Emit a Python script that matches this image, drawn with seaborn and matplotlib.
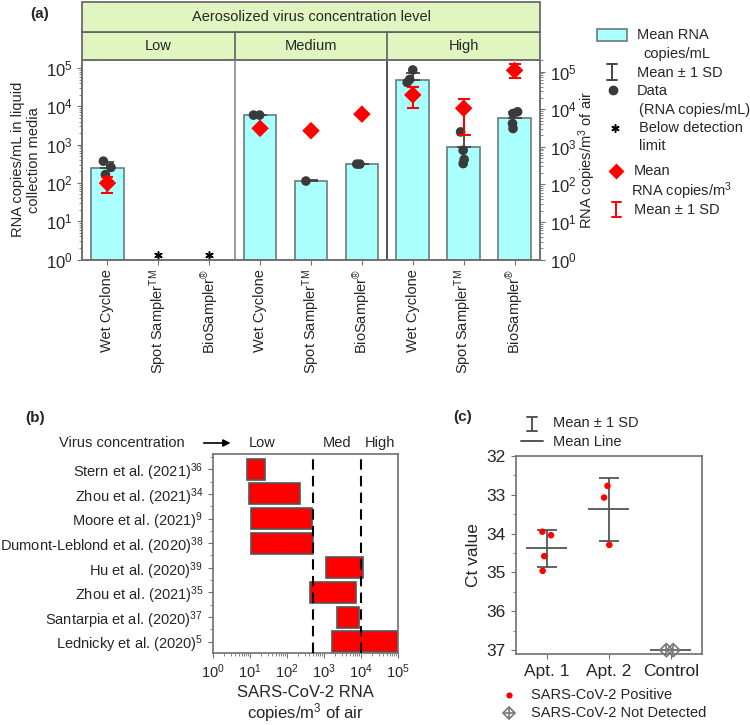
import numpy as np
import pandas as pd
import matplotlib
matplotlib.use('Agg')
import matplotlib.pyplot as plt
import seaborn as sns
from matplotlib.patches import Rectangle
from matplotlib.ticker import LogLocator, MultipleLocator, NullFormatter

# ---------------- data, panel (a) ----------------
levels = ['Low', 'Medium', 'High']
samplers = ['Wet Cyclone', 'Spot Sampler$^{\\mathrm{TM}}$', 'BioSampler$^{\\circledR}$']
# mean RNA copies/mL (bars), nan = below detection limit
bar_mean = [250, np.nan, np.nan, 5800, 115, 310, 48000, 870, 4900]
bar_sd_top = [355, np.nan, np.nan, 5900, 118, 320, 75000, 1770, 7000]
below_lod = [False, True, True, False, False, False, False, False, False]
# individual data points (RNA copies/mL)
liquid_pts = [[370, 255, 165], [], [], [5900, 5900], [112], [310, 310],
              [89000, 50500, 42000], [2150, 710, 410, 320], [7200, 6500, 3550, 2640]]
# mean RNA copies/m3 of air and its +-1 SD range
air_mean = [108, np.nan, np.nan, 3100, 2680, 7400, 24000, 10600, 108000]
air_lo = [60, np.nan, np.nan, 3100, 2680, 7400, 11000, 2050, 68000]
air_hi = [155, np.nan, np.nan, 3100, 2680, 7400, 39000, 19000, 155000]

# ---------------- data, panel (b) ----------------
studies = ['Stern et al. (2021)$^{36}$', 'Zhou et al. (2021)$^{34}$',
           'Moore et al. (2021)$^{9}$', 'Dumont-Leblond et al. (2020)$^{38}$',
           'Hu et al. (2020)$^{39}$', 'Zhou et al. (2021)$^{35}$',
           'Santarpia et al. (2020)$^{37}$', 'Lednicky et al. (2020)$^{5}$']
range_lo = [8.5, 9.4, 10.6, 10.6, 1130, 420, 2200, 1670]
range_hi = [25, 225, 465, 510, 11500, 7200, 8700, 98000]
conc_bounds = [500, 10000]

# ---------------- data, panel (c) ----------------
sites = ['Apt. 1', 'Apt. 2', 'Control']
ct_apt1 = [33.95, 34.04, 34.58, 34.96]
ct_apt2 = [32.77, 33.07, 34.29]
ct_ctrl = [37.0, 37.0]

# jitter offsets of points (style only)
jit_a = [[-0.08, 0.07, -0.04], [], [], [-0.13, -0.01], [-0.1], [-0.1, -0.04],
         [0.0, -0.06, -0.11], [-0.06, -0.01, 0.01, -0.01], [0.06, -0.03, -0.04, -0.03]]
jit_c = [[-0.07, 0.07, -0.04, -0.065], [-0.02, -0.075, 0.01], [-0.07, 0.04]]

sns.set_style('ticks')
plt.rcParams['font.family'] = ['Liberation Sans', 'DejaVu Sans']
plt.rcParams['mathtext.fontset'] = 'custom'
plt.rcParams['mathtext.rm'] = 'Liberation Sans'
plt.rcParams['mathtext.it'] = 'Liberation Sans:italic'
plt.rcParams['mathtext.bf'] = 'Liberation Sans:bold'
plt.rcParams['font.size'] = 10.5

CYAN = '#aaffff'
EDGE = '#6a7a7a'
STRIP_EDGE = '#606060'
GREEN = '#e0f5c0'
DOT = '#3a3a3a'
SPINE = '#707070'
GRAY = '#555555'

W, H = 750, 725
fig = plt.figure(figsize=(7.5, 7.25), dpi=100)


def rect(x0, y0, x1, y1):
    return [x0 / W, 1 - y1 / H, (x1 - x0) / W, (y1 - y0) / H]


def style_spines(ax):
    for s in ax.spines.values():
        s.set_color(SPINE)
        s.set_linewidth(1.2)
    ax.tick_params(which='both', color=SPINE, direction='out')


# ================= panel (a) =================
ax = fig.add_axes(rect(82, 60, 540, 259.5))
slots = [f'{lv}|{i}' for lv in levels for i in range(3)]
df_a = pd.DataFrame({'slot': slots, 'mean': bar_mean})
sns.barplot(data=df_a, x='slot', y='mean', order=slots, color=CYAN, saturation=1,
            width=0.64, edgecolor=EDGE, linewidth=1.2, errorbar=None, ax=ax)
ax.set_yscale('log')
ax.set_ylim(1, 10 ** 5.21)
ax.set_xlim(-0.5, 8.5)

xs = np.arange(9)
m = np.array(bar_mean)
ax.errorbar(xs, m, yerr=[np.zeros(9), np.array(bar_sd_top) - m], fmt='none',
            ecolor='#444444', elinewidth=1.3, capsize=5, capthick=1.3, zorder=4)
for i, vals in enumerate(liquid_pts):
    if vals:
        sns.scatterplot(x=[i + d for d in jit_a[i]], y=vals, color=DOT, s=48,
                        edgecolor='none', ax=ax, zorder=5, legend=False)
lod_x = [i for i, f in enumerate(below_lod) if f]
ax.scatter(lod_x, [1.3] * len(lod_x), marker=(6, 2, 0), color='black', s=28,
           linewidths=1.1, zorder=5, clip_on=False)

ax.axvline(2.5, color='#8a8a8a', lw=1.2)
ax.axvline(5.5, color='#333333', lw=1.2)

ax.set_xticks(xs)
ax.set_xticklabels(samplers * 3, rotation=90, fontsize=10.5)
ax.set_xlabel('')
ax.set_yticks([10 ** k for k in range(6)])
ax.yaxis.set_minor_locator(LogLocator(base=10, subs=np.arange(2, 10), numticks=20))
ax.yaxis.set_minor_formatter(NullFormatter())
ax.tick_params(axis='y', labelsize=12)
ax.set_ylabel('RNA copies/mL in liquid\ncollection media', fontsize=10.5, labelpad=3)
style_spines(ax)

ax2 = ax.twinx()
ax2.set_yscale('log')
ax2.set_ylim(1, 10 ** 5.31)
am = np.array(air_mean)
ax2.errorbar(xs, am, yerr=[am - np.array(air_lo), np.array(air_hi) - am], fmt='none',
             ecolor='red', elinewidth=1.5, capsize=4, capthick=1.5, zorder=4)
sns.scatterplot(x=xs, y=am, marker='D', color='red', s=80, edgecolor='none', ax=ax2,
                zorder=5, legend=False)
ax2.set_yticks([10 ** k for k in range(6)])
ax2.yaxis.set_minor_locator(LogLocator(base=10, subs=np.arange(2, 10), numticks=20))
ax2.yaxis.set_minor_formatter(NullFormatter())
ax2.tick_params(axis='y', labelsize=12)
ax2.set_ylabel('RNA copies/m$^3$ of air', fontsize=10.5, labelpad=0)
style_spines(ax2)

# header strips
h1 = 28 / 199.5
h2 = 30 / 199.5
ax.add_patch(Rectangle((0, 1), 1, h1, transform=ax.transAxes, facecolor=GREEN,
                       edgecolor=STRIP_EDGE, lw=1.2, clip_on=False))
ax.add_patch(Rectangle((0, 1 + h1), 1, h2, transform=ax.transAxes, facecolor=GREEN,
                       edgecolor=STRIP_EDGE, lw=1.2, clip_on=False))
for f in (1 / 3, 2 / 3):
    ax.plot([f, f], [1, 1 + h1], transform=ax.transAxes, color=STRIP_EDGE, lw=1.2,
            clip_on=False)
for i, lv in enumerate(levels):
    ax.text((i + 0.5) / 3, 1 + h1 / 2, lv, transform=ax.transAxes, ha='center',
            va='center', fontsize=10.5)
ax.text(0.5, 1 + h1 + h2 / 2, 'Aerosolized virus concentration level', transform=ax.transAxes,
        ha='center', va='center', fontsize=10.5)

# ================= panel (b) =================
axb = fig.add_axes(rect(213, 454, 398, 653))
ypos = np.arange(len(studies))
axb.barh(ypos, np.array(range_hi) - np.array(range_lo), left=range_lo, height=0.85,
         color='red', edgecolor=GRAY, linewidth=1.2, zorder=2)
for b in conc_bounds:
    axb.axvline(b, color='black', lw=1.5, ls=(0, (5, 3)), zorder=3)
axb.set_xscale('log')
axb.set_xlim(1, 1e5)
axb.set_ylim(7.46, -0.62)
axb.set_yticks(ypos)
axb.set_yticklabels(studies, fontsize=10.5)
axb.yaxis.set_minor_locator(MultipleLocator(0.5))
axb.set_xticks([10 ** k for k in range(6)])
axb.xaxis.set_minor_locator(LogLocator(base=10, subs=np.arange(2, 10), numticks=20))
axb.xaxis.set_minor_formatter(NullFormatter())
axb.tick_params(axis='x', labelsize=10.5)
axb.set_xlabel('SARS-CoV-2 RNA\ncopies/m$^3$ of air', fontsize=12, labelpad=3,
               linespacing=1.05)
style_spines(axb)

ty = 1 + 11 / 199
axb.text(-0.151, ty, 'Virus concentration', transform=axb.transAxes, ha='right', va='center',
         fontsize=10.5)
axb.annotate('', xy=(0.11, ty), xytext=(-0.065, ty), xycoords='axes fraction',
             arrowprops=dict(arrowstyle='-|>', color='black', lw=1.2), annotation_clip=False)
for lab, px in [('Low', 262), ('Med', 337), ('High', 380)]:
    axb.text((px - 213) / 185, ty, lab, transform=axb.transAxes, ha='center', va='center',
             fontsize=10.5)

# ================= panel (c) =================
axc = fig.add_axes(rect(515.7, 456, 701.7, 654))
groups = [ct_apt1, ct_apt2]
for i, vals in enumerate(groups):
    sns.scatterplot(x=[i + d for d in jit_c[i]], y=vals, color='red', s=22, edgecolor='none',
                    ax=axc, zorder=5, legend=False)
axc.scatter([2 + d for d in jit_c[2]], ct_ctrl, marker='D', facecolors='none',
            edgecolors='#777777', s=45, linewidths=1.2, zorder=5, clip_on=False)
axc.scatter([2 + d for d in jit_c[2]], ct_ctrl, marker='+', color='#777777', s=45,
            linewidths=1.2, zorder=5, clip_on=False)

all_groups = [ct_apt1, ct_apt2, ct_ctrl]
means = np.array([np.mean(g) for g in all_groups])
sds = np.array([np.std(g, ddof=1) for g in all_groups])
cx = np.arange(3)
axc.hlines(means, cx - 0.33, cx + 0.33, color=GRAY, lw=1.3, zorder=4)
axc.errorbar(cx[:2], means[:2], yerr=sds[:2], fmt='none', ecolor=GRAY,
             elinewidth=1.3, capsize=7.5, capthick=1.3, zorder=4)
axc.set_xlim(-0.5, 2.5)
axc.set_ylim(37.1, 32)
axc.set_xticks(cx)
axc.set_xticklabels(sites, fontsize=12.5)
axc.set_yticks([32, 33, 34, 35, 36, 37])
axc.yaxis.set_minor_locator(MultipleLocator(0.5))
axc.tick_params(axis='y', labelsize=12.5)
axc.set_ylabel('Ct value', fontsize=12.5, labelpad=4)
style_spines(axc)

# ================= legends / labels in pixel space =================
ov = fig.add_axes([0, 0, 1, 1], facecolor='none')
ov.set_xlim(0, W)
ov.set_ylim(H, 0)
ov.axis('off')


def ibar(x, y0, y1, color, half=5, lw=1.4):
    ov.plot([x, x], [y0, y1], color=color, lw=lw)
    ov.plot([x - half, x + half], [y0, y0], color=color, lw=lw)
    ov.plot([x - half, x + half], [y1, y1], color=color, lw=lw)


for lab, px, py in [('(a)', 30, 14), ('(b)', 25, 418), ('(c)', 453, 417)]:
    ov.text(px, py, lab, fontweight='bold', fontsize=11, va='center')

# legend panel (a)
ov.add_patch(Rectangle((597, 29), 30, 12, facecolor=CYAN, edgecolor=EDGE, lw=1.2))
ov.text(637, 35, 'Mean RNA', va='center')
ov.text(643, 54, 'copies/mL', va='center')
ibar(612, 64, 80, '#444444')
ov.text(637, 73, 'Mean \u00b1 1 SD', va='center')
ov.plot([613], [90], 'o', color=DOT, ms=6)
ov.text(637, 91, 'Data', va='center')
ov.text(639, 110, '(RNA copies/mL)', va='center')
ov.plot([615], [128], marker=(6, 2, 0), color='black', ms=6, mew=1.1)
ov.text(639, 128, 'Below detection', va='center')
ov.text(639, 146, 'limit', va='center')
ov.plot([616], [171], 'D', color='red', ms=8, mec='none')
ov.text(634, 171, 'Mean', va='center')
ov.text(631, 191, 'RNA copies/m$^3$', va='center')
ibar(616, 202, 217, 'red', half=4.5)
ov.text(634, 210, 'Mean \u00b1 1 SD', va='center')

# legend panel (c)
ibar(532, 417, 431, GRAY, half=5)
ov.text(553, 423, 'Mean \u00b1 1 SD', va='center')
ov.plot([521, 543], [441, 441], color=GRAY, lw=1.4)
ov.text(553, 442, 'Mean Line', va='center')
ov.plot([509], [695], 'o', color='red', ms=4.5, mec='none')
ov.text(531, 695, 'SARS-CoV-2 Positive', va='center')
ov.plot([509], [713], 'D', mfc='none', mec='#777777', ms=6.5, mew=1.2)
ov.plot([509], [713], '+', color='#777777', ms=6.5, mew=1.2)
ov.text(531, 713, 'SARS-CoV-2 Not Detected', va='center')

fig.savefig('out.png', dpi=100)
